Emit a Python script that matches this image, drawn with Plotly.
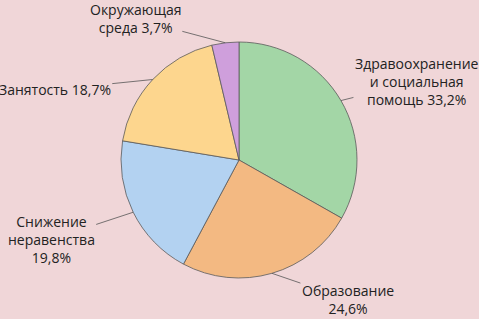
import math
import plotly.graph_objects as go

categories = ["Здравоохранение<br>и социальная<br>помощь", "Образование", "Снижение<br>неравенства", "Занятость", "Окружающая<br>среда"]
values = [33.2, 24.6, 19.8, 18.7, 3.7]
label_text = ["Здравоохранение<br>и социальная<br>помощь 33,2%", "Образование<br>24,6%", "Снижение<br>неравенства<br>19,8%", "Занятость 18,7%", "Окружающая<br>среда 3,7%"]
colors = ["#a3d6a6", "#f3b982", "#b3d2f1", "#fdd68e", "#cf9fdc"]

W, H = 479, 319
cx, cy, r = 239, 160, 118
# text offsets (px) relative to slice edge midpoint
offsets = [(76, -19), (76, 26), (-82, 27), (-98, 10), (-90, -24)]

fig = go.Figure(go.Pie(
    labels=categories, values=values, sort=False, direction="clockwise", rotation=0,
    marker=dict(colors=colors, line=dict(color="#5a5a5a", width=0.8)),
    textinfo="none", hoverinfo="none", showlegend=False,
    domain=dict(x=[(cx - r) / W, (cx + r) / W], y=[1 - (cy + r) / H, 1 - (cy - r) / H]),
))

total = sum(values)
cum = 0
for v, txt, (ax, ay) in zip(values, label_text, offsets):
    mid = (cum + v / 2) / total * 2 * math.pi
    cum += v
    px = cx + r * math.sin(mid)
    py = cy - r * math.cos(mid)
    fig.add_annotation(x=px / W, y=1 - py / H, xref="paper", yref="paper",
                       text=txt, showarrow=True, arrowhead=0, arrowwidth=0.8,
                       arrowcolor="#555555", ax=ax, ay=ay, align="center",
                       font=dict(family="Open Sans", size=14, color="#222222"))

fig.update_layout(width=W, height=H, margin=dict(l=0, r=0, t=0, b=0),
                  paper_bgcolor="#f0d6d8", plot_bgcolor="#f0d6d8")
fig.write_html("out.html", config={"displayModeBar": False})

with open("out.html", encoding="utf-8") as f:
    html = f.read()
html = html.replace("<body>", '<body style="margin:0;background:#f0d6d8">', 1)
with open("out.html", "w", encoding="utf-8") as f:
    f.write(html)
